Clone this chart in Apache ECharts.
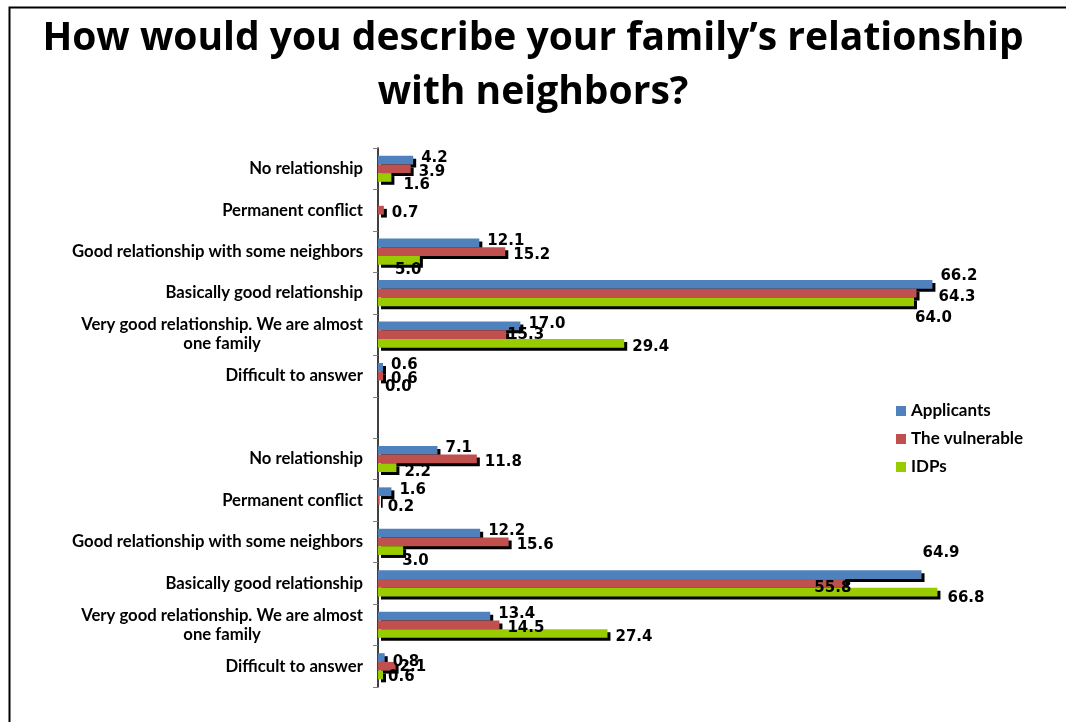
<!DOCTYPE html>
<html>
<head>
<meta charset="utf-8">
<script src="https://cdn.jsdelivr.net/npm/echarts@6/dist/echarts.min.js"></script>
<style>
  html, body { margin: 0; padding: 0; background: #ffffff; }
  #chart { width: 1066px; height: 722px; }
</style>
</head>
<body>
<div id="chart"></div>
<script>
// Survey answers, two blocks of six answers separated by an empty row
const categories = [
  'No relationship',
  'Permanent conflict',
  'Good relationship with some neighbors',
  'Basically good relationship',
  'Very good relationship. We are almost\none family',
  'Difficult to answer',
  '',
  'No relationship',
  'Permanent conflict',
  'Good relationship with some neighbors',
  'Basically good relationship',
  'Very good relationship. We are almost\none family',
  'Difficult to answer'
];

const seriesNames = ['Applicants', 'The vulnerable', 'IDPs'];

// Percent of respondents; null where no answer was recorded
const applicants = [4.2, null, 12.1, 66.2, 17.0, 0.6, null, 7.1, 1.6, 12.2, 64.9, 13.4, 0.8];
const vulnerable = [3.9, 0.7, 15.2, 64.3, 15.3, 0.6, null, 11.8, 0.2, 15.6, 55.8, 14.5, 2.1];
const idps       = [1.6, null, 5.0, 64.0, 29.4, 0.0, null, 2.2, null, 3.0, 66.8, 27.4, 0.6];

const seriesColors = ['#4f81bd', '#c0504d', '#99cc00'];

// Label placement: default vertical shift per series, plus hand-placed labels
const labelShiftY = [-2, 3, 4];
const labelNudges = [
  { 3: [0, -8], 10: [-7, -22], 12: [0, 5] },
  { 3: [14, 4], 4: [-7, 1], 8: [0, 7], 10: [-39, 5], 12: [-4, 1] },
  { 0: [4, 8], 2: [-33, 10], 3: [-7, 16], 5: [-1, 2], 9: [-9, 11], 10: [2, 6], 12: [-3, 2] }
];

const labelFont = {
  fontFamily: 'DejaVu Sans',
  fontWeight: 'bold',
  fontSize: 15,
  color: '#000000'
};

function buildSeries(name, values, idx) {
  return {
    name: name,
    type: 'bar',
    barGap: '0%',
    barCategoryGap: '37%',
    itemStyle: {
      color: seriesColors[idx],
      shadowColor: '#000000',
      shadowBlur: 0,
      shadowOffsetX: 3,
      shadowOffsetY: 3
    },
    label: Object.assign({
      show: true,
      position: 'right',
      distance: 8,
      offset: [0, labelShiftY[idx]],
      formatter: p => (p.value == null ? '' : Number(p.value).toFixed(1))
    }, labelFont),
    data: values.map((v, i) => {
      const item = { value: v == null ? '-' : v };
      const n = labelNudges[idx][i];
      if (n) item.label = { offset: n };
      return item;
    })
  };
}

const chart = echarts.init(document.getElementById('chart'), null, { renderer: 'canvas' });

const axisFont = { fontFamily: 'Lato', fontWeight: 'bold', fontSize: 16.7, color: '#000000' };

chart.setOption({
  animation: false,
  backgroundColor: '#ffffff',
  title: {
    text: 'How would you describe your family\u2019s relationship\nwith neighbors?',
    left: 'center',
    top: 7,
    textStyle: {
      fontFamily: 'Open Sans',
      fontWeight: 'bold',
      fontSize: 39,
      lineHeight: 54,
      color: '#000000'
    }
  },
  graphic: [{
    type: 'rect',
    left: 7,
    top: 5,
    shape: { width: 1100, height: 800 },
    style: { fill: 'none', stroke: '#000000', lineWidth: 2 },
    silent: true,
    z: 100
  }],
  legend: {
    orient: 'vertical',
    left: 891,
    top: 397,
    itemWidth: 10,
    itemHeight: 10,
    itemGap: 10,
    icon: 'rect',
    textStyle: Object.assign({ lineHeight: 18, padding: [0, 0, 0, 0] }, axisFont, { fontSize: 17 }),
    data: seriesNames
  },
  grid: {
    left: 378,
    right: 18,
    top: 148,
    bottom: 35,
    containLabel: false
  },
  xAxis: {
    type: 'value',
    min: 0,
    max: 80,
    show: false
  },
  yAxis: {
    type: 'category',
    inverse: true,
    data: categories,
    axisLine: { show: true, lineStyle: { color: '#000000', width: 1.5 } },
    axisTick: { show: true, length: 5, lineStyle: { color: '#808080' } },
    axisLabel: Object.assign({
      margin: 15,
      interval: 0,
      formatter: v => {
        const lines = v.split('\n');
        if (lines.length === 1) return '{a|' + v + '}';
        return '{a|' + lines[0] + '}\n{c|' + lines[1] + '}';
      },
      rich: {
        a: Object.assign({ align: 'right', lineHeight: 19 }, axisFont),
        c: Object.assign({ align: 'center', lineHeight: 19 }, axisFont)
      }
    }, axisFont),
    splitLine: { show: false }
  },
  series: [
    buildSeries(seriesNames[0], applicants, 0),
    buildSeries(seriesNames[1], vulnerable, 1),
    buildSeries(seriesNames[2], idps, 2)
  ]
});
</script>
</body>
</html>
